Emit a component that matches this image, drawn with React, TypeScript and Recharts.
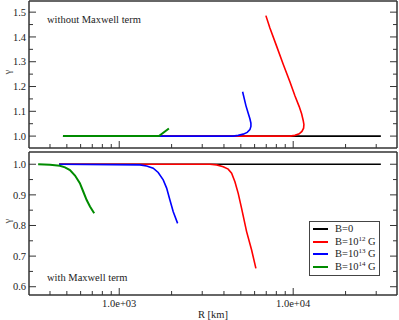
import React from 'react';
import { LineChart, Line, XAxis, YAxis, Legend } from 'recharts';

const FONT = '"Liberation Serif", "Times New Roman", serif';
const AXIS = '#333';
const TXT = '#222';

// axis ticks
const xTicks = [400, 500, 600, 700, 800, 900, 1000, 2000, 3000, 4000, 5000, 6000, 7000, 8000, 9000, 10000, 20000, 30000];
const xLabels: Record<number, string> = { 1000: '1.0e+03', 10000: '1.0e+04' };
const yTicksTop = [1, 1.05, 1.1, 1.15, 1.2, 1.25, 1.3, 1.35, 1.4, 1.45, 1.5];
const yTicksBottom = [0.6, 0.65, 0.7, 0.75, 0.8, 0.85, 0.9, 0.95, 1];

const seriesNames = ['B=0', 'B=10^12 G', 'B=10^13 G', 'B=10^14 G'];
const seriesColors = ['#000000', '#ff0000', '#0000ff', '#008b00'];

// without Maxwell term (R in km, gamma)
const topB0 = [
  { r: 475, g: 1 },
  { r: 31900, g: 1 },
];
const topB12 = [
  { r: 475, g: 1 },
  { r: 9572, g: 1.0 },
  { r: 10228, g: 1.003 },
  { r: 10826, g: 1.009 },
  { r: 11220, g: 1.019 },
  { r: 11475, g: 1.032 },
  { r: 11521, g: 1.047 },
  { r: 11415, g: 1.063 },
  { r: 11177, g: 1.09 },
  { r: 10826, g: 1.119 },
  { r: 10228, g: 1.163 },
  { r: 9572, g: 1.219 },
  { r: 8761, g: 1.29 },
  { r: 8027, g: 1.363 },
  { r: 7347, g: 1.436 },
  { r: 6966, g: 1.486 },
];
const topB13 = [
  { r: 475, g: 1 },
  { r: 4521, g: 1.0 },
  { r: 4830, g: 1.003 },
  { r: 5160, g: 1.008 },
  { r: 5440, g: 1.015 },
  { r: 5638, g: 1.026 },
  { r: 5714, g: 1.039 },
  { r: 5714, g: 1.052 },
  { r: 5638, g: 1.07 },
  { r: 5513, g: 1.092 },
  { r: 5348, g: 1.123 },
  { r: 5119, g: 1.179 },
];
const topB14 = [
  { r: 475, g: 1 },
  { r: 1692, g: 1.0 },
  { r: 1930, g: 1.031 },
];

// with Maxwell term
const botB0 = [
  { r: 451, g: 1 },
  { r: 31900, g: 1 },
];
const botB12 = [
  { r: 451, g: 1 },
  { r: 3321, g: 1.0 },
  { r: 3630, g: 0.998 },
  { r: 3960, g: 0.992 },
  { r: 4230, g: 0.984 },
  { r: 4426, g: 0.971 },
  { r: 4624, g: 0.943 },
  { r: 4830, g: 0.905 },
  { r: 5051, g: 0.856 },
  { r: 5397, g: 0.78 },
  { r: 5767, g: 0.72 },
  { r: 6104, g: 0.66 },
];
const botB13 = [
  { r: 451, g: 1 },
  { r: 1315, g: 0.998 },
  { r: 1437, g: 0.994 },
  { r: 1568, g: 0.987 },
  { r: 1675, g: 0.973 },
  { r: 1790, g: 0.949 },
  { r: 1873, g: 0.922 },
  { r: 1956, g: 0.883 },
  { r: 2044, g: 0.845 },
  { r: 2166, g: 0.807 },
];
const botB14 = [
  { r: 342, g: 1 },
  { r: 400, g: 0.998 },
  { r: 456, g: 0.995 },
  { r: 488, g: 0.99 },
  { r: 521, g: 0.981 },
  { r: 557, g: 0.963 },
  { r: 594, g: 0.938 },
  { r: 621, g: 0.911 },
  { r: 650, g: 0.883 },
  { r: 679, g: 0.862 },
  { r: 718, g: 0.84 },
];

const topSeries = [topB0, topB12, topB13, topB14];
const botSeries = [botB0, botB12, botB13, botB14];

const isMajorX = (v: number) => v in xLabels;
const isMajorY = (v: number) => Math.abs(v * 10 - Math.round(v * 10)) < 1e-6;

type Side = 'left' | 'right' | 'top' | 'bottom';

// inward ticks like xmgrace, labels only on left / bottom
const makeTick = (side: Side, showLabels: boolean) => (props: any) => {
  const { x, y, payload } = props;
  const v = payload.value as number;
  const horiz = side === 'top' || side === 'bottom';
  const major = horiz ? isMajorX(v) : isMajorY(v);
  const len = major ? 7 : 4;
  const dx = side === 'left' ? len : side === 'right' ? -len : 0;
  const dy = side === 'bottom' ? -len : side === 'top' ? len : 0;
  let label: React.ReactNode = null;
  if (showLabels && major) {
    if (side === 'left') {
      label = (
        <text x={x - 3} y={y} dy="0.35em" textAnchor="end" fontSize={10.5} fill={TXT} fontFamily={FONT}>
          {v.toFixed(1)}
        </text>
      );
    } else if (side === 'bottom') {
      label = (
        <text x={x} y={y + 12} textAnchor="middle" fontSize={10.5} fill={TXT} fontFamily={FONT}>
          {xLabels[v]}
        </text>
      );
    }
  }
  return (
    <g>
      <line x1={x} y1={y} x2={x + dx} y2={y + dy} stroke={AXIS} strokeWidth={1} />
      {label}
    </g>
  );
};

const axisLine = { stroke: AXIS, strokeWidth: 1.5 };
const xDomain = [303, 39500];

const renderLegend = (props: any) => (
  <div
    style={{
      border: '1px solid #444',
      background: '#fff',
      padding: '1px 3px 2px 3px',
      width: 63,
      fontSize: 10.5,
      lineHeight: '12.5px',
      fontFamily: FONT,
      color: TXT,
    }}
  >
    {(props.payload || []).map((p: any) => {
      const m = /^(.*)\^(\d+)(.*)$/.exec(p.value);
      return (
        <div key={p.value} style={{ display: 'flex', alignItems: 'center', whiteSpace: 'nowrap' }}>
          <span style={{ display: 'inline-block', width: 15, height: 2, background: p.color, marginRight: 7 }} />
          <span>
            {m ? (
              <>
                {m[1]}
                <sup style={{ fontSize: 7, lineHeight: 0 }}>{m[2]}</sup>
                {m[3]}
              </>
            ) : (
              p.value
            )}
          </span>
        </div>
      );
    })}
  </div>
);

function Panel({
  series,
  yDomain,
  yTicks,
  height,
  topH,
  bottomH,
  showX,
  legend,
}: {
  series: { r: number; g: number }[][];
  yDomain: number[];
  yTicks: number[];
  height: number;
  topH: number;
  bottomH: number;
  showX: boolean;
  legend?: boolean;
}) {
  return (
    <LineChart width={399} height={height} margin={{ top: 0, right: 0, bottom: 0, left: 0 }} style={{ fontFamily: FONT }}>
      <XAxis
        xAxisId="b"
        dataKey="r"
        type="number"
        scale="log"
        domain={xDomain}
        allowDataOverflow
        ticks={xTicks}
        interval={0}
        height={bottomH}
        tickSize={0}
        tickMargin={0}
        tickLine={false}
        axisLine={axisLine}
        tick={makeTick('bottom', showX)}
        label={
          showX
            ? { value: 'R [km]', position: 'insideBottom', offset: 2, fontSize: 10.5, fill: TXT, fontFamily: FONT }
            : undefined
        }
      />
      <XAxis
        xAxisId="t"
        orientation="top"
        type="number"
        scale="log"
        domain={xDomain}
        allowDataOverflow
        ticks={xTicks}
        interval={0}
        height={topH}
        tickSize={0}
        tickMargin={0}
        tickLine={false}
        axisLine={axisLine}
        tick={makeTick('top', false)}
      />
      <YAxis
        yAxisId="l"
        type="number"
        domain={yDomain}
        allowDataOverflow
        ticks={yTicks}
        interval={0}
        width={29}
        tickSize={0}
        tickMargin={0}
        tickLine={false}
        axisLine={axisLine}
        tick={makeTick('left', true)}
        label={{ value: 'γ', angle: -90, position: 'insideLeft', offset: 7, fontSize: 11, fill: '#555', fontFamily: FONT }}
      />
      <YAxis
        yAxisId="r"
        orientation="right"
        type="number"
        domain={yDomain}
        allowDataOverflow
        ticks={yTicks}
        interval={0}
        width={2}
        tickSize={0}
        tickMargin={0}
        tickLine={false}
        axisLine={axisLine}
        tick={makeTick('right', false)}
      />
      {series.map((d, i) => (
        <Line
          key={seriesNames[i]}
          name={seriesNames[i]}
          data={d}
          dataKey="g"
          xAxisId="b"
          yAxisId="l"
          type="linear"
          stroke={seriesColors[i]}
          strokeWidth={i === 3 ? 2 : 1.6}
          dot={false}
          isAnimationActive={false}
        />
      ))}
      {legend && (
        <Legend
          layout="vertical"
          align="center"
          verticalAlign="middle"
          content={renderLegend}
          wrapperStyle={{ left: 309, top: 71, width: 'auto' }}
        />
      )}
    </LineChart>
  );
}

export default function App() {
  return (
    <div
      style={{
        position: 'absolute',
        left: 0,
        top: 0,
        width: 399,
        height: 320,
        background: '#fff',
        fontFamily: FONT,
        overflow: 'hidden',
      }}
    >
      <div style={{ position: 'absolute', left: 0, top: 0 }}>
        <Panel series={topSeries} yDomain={[0.952, 1.545]} yTicks={yTicksTop} height={150} topH={1} bottomH={2} showX={false} />
      </div>
      <div style={{ position: 'absolute', left: 0, top: 150 }}>
        <Panel series={botSeries} yDomain={[0.573, 1.04]} yTicks={yTicksBottom} height={170} topH={2} bottomH={25} showX legend />
      </div>
      <div style={{ position: 'absolute', left: 47, top: 14, fontSize: 10.5, lineHeight: '11px', color: TXT }}>
        without Maxwell term
      </div>
      <div style={{ position: 'absolute', left: 47, top: 272, fontSize: 10.5, lineHeight: '11px', color: TXT }}>
        with Maxwell term
      </div>
    </div>
  );
}
